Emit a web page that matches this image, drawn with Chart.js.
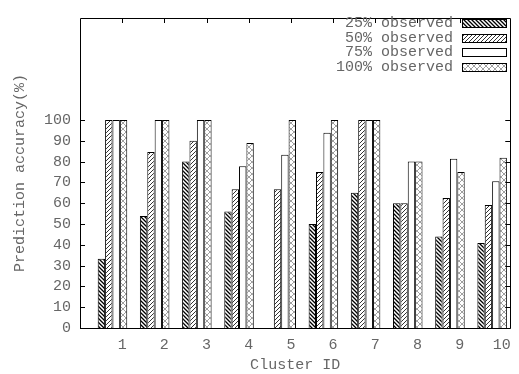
<!DOCTYPE html>
<html>
<head>
<meta charset="utf-8">
<script src="https://cdn.jsdelivr.net/npm/chart.js@4/dist/chart.umd.min.js"></script>
<style>
  html, body { margin: 0; padding: 0; background: #fff; }
  #wrap { width: 519px; height: 374px; }
</style>
</head>
<body>
<div id="wrap"><canvas id="chart" width="519" height="374"></canvas></div>
<script>
const clusters = [1, 2, 3, 4, 5, 6, 7, 8, 9, 10];
const obs25 = [33.3, 53.8, 80, 56, null, 50, 65, 60, 44, 40.9];
const obs50 = [100, 84.6, 90, 66.7, 66.7, 75, 100, 60, 62.5, 59.1];
const obs75 = [100, 100, 100, 77.8, 83.3, 93.8, 100, 80, 81.3, 70.5];
const obs100 = [100, 100, 100, 88.9, 100, 100, 100, 80, 75, 81.8];
const seriesLabels = ['25% observed', '50% observed', '75% observed', '100% observed'];

const FONT = "'Courier New', 'Liberation Mono', monospace";
const TEXT = '#666';

// small tiles used as bar fills
function makePattern(kind) {
    const c = document.createElement('canvas');
    const size = kind === 'cross' ? 6 : 4;
    c.width = size; c.height = size;
    const g = c.getContext('2d');
    g.fillStyle = '#fff';
    g.fillRect(0, 0, size, size);
    g.beginPath();
    if (kind === 'back') {
        g.strokeStyle = '#000';
        g.lineWidth = 1.3;
        g.moveTo(-1, -1); g.lineTo(size + 1, size + 1);
        g.moveTo(-1, size - 1); g.lineTo(1, size + 1);
        g.moveTo(size - 1, -1); g.lineTo(size + 1, 1);
    } else if (kind === 'fwd') {
        g.strokeStyle = '#333';
        g.lineWidth = 1;
        g.moveTo(0, 3); g.lineTo(3, 0);
        g.moveTo(3, 4); g.lineTo(4, 3);
    } else if (kind === 'cross') {
        g.strokeStyle = '#888';
        g.lineWidth = 0.8;
        g.moveTo(0, 0); g.lineTo(size, size);
        g.moveTo(size, 0); g.lineTo(0, size);
    }
    g.stroke();
    return g.createPattern(c, 'repeat');
}

const fills = [makePattern('back'), makePattern('fwd'), '#fff', makePattern('cross')];
const seriesData = [obs25, obs50, obs75, obs100];

const datasets = seriesData.map((vals, i) => ({
    label: seriesLabels[i],
    data: clusters.map((c, j) => ({ x: c, y: vals[j] })),
    backgroundColor: fills[i],
    borderColor: '#000',
    borderWidth: 1,
    borderSkipped: 'bottom',
    categoryPercentage: 0.7,
    barPercentage: 1.0,
    xAxisID: 'x'
}));

// frame with inward ticks, like the original plot
const framePlugin = {
    id: 'frame',
    beforeDatasetsDraw(chart) {
        // bottom ticks sit behind the bars
        const { ctx, chartArea: a } = chart;
        const xs = chart.scales.xt;
        ctx.save();
        ctx.strokeStyle = '#000';
        ctx.lineWidth = 1;
        ctx.beginPath();
        xs.ticks.forEach(t => {
            const x = Math.round(xs.getPixelForValue(t.value)) + 0.5;
            ctx.moveTo(x, a.bottom); ctx.lineTo(x, a.bottom - 5);
        });
        ctx.stroke();
        ctx.restore();
    },
    afterDatasetsDraw(chart) {
        const { ctx, chartArea: a } = chart;
        const ys = chart.scales.y;
        const xs = chart.scales.xt;
        ctx.save();
        ctx.strokeStyle = '#000';
        ctx.lineWidth = 1;
        ctx.beginPath();
        ctx.rect(Math.round(a.left) + 0.5, Math.round(a.top) + 0.5,
            Math.round(a.right - a.left), Math.round(a.bottom - a.top));
        ys.ticks.forEach(t => {
            const y = Math.round(ys.getPixelForValue(t.value)) + 0.5;
            ctx.moveTo(a.left, y); ctx.lineTo(a.left + 5, y);
            ctx.moveTo(a.right, y); ctx.lineTo(a.right - 5, y);
        });
        xs.ticks.forEach(t => {
            const x = Math.round(xs.getPixelForValue(t.value)) + 0.5;
            ctx.moveTo(x, a.top); ctx.lineTo(x, a.top + 5);
        });
        ctx.stroke();
        ctx.restore();
    },
    afterDraw(chart) {
        // key in the upper right corner
        const { ctx } = chart;
        const right = 453, boxX = 462, boxW = 44, boxH = 8;
        ctx.save();
        ctx.font = '15px ' + FONT;
        ctx.textAlign = 'right';
        ctx.textBaseline = 'middle';
        chart.data.datasets.forEach((ds, i) => {
            const y = 23 + i * 14.7;
            ctx.fillStyle = TEXT;
            ctx.fillText(ds.label, right, y);
            ctx.fillStyle = ds.backgroundColor;
            ctx.fillRect(boxX, Math.round(y - boxH / 2), boxW, boxH);
            ctx.strokeStyle = '#000';
            ctx.lineWidth = 1;
            ctx.strokeRect(boxX + 0.5, Math.round(y - boxH / 2) + 0.5, boxW, boxH);
        });
        ctx.restore();
    }
};

new Chart(document.getElementById('chart').getContext('2d'), {
    type: 'bar',
    data: { datasets: datasets },
    options: {
        responsive: false,
        animation: false,
        layout: { padding: { top: 12, right: 0, left: 0, bottom: 0 } },
        plugins: {
            legend: { display: false },
            tooltip: { enabled: false }
        },
        scales: {
            x: {
                type: 'linear',
                display: false,
                min: 0.23,
                max: 10.43,
                offset: false
            },
            xt: {
                type: 'linear',
                position: 'bottom',
                min: 0,
                max: 10.2,
                offset: false,
                afterBuildTicks: (s) => { s.ticks = clusters.map(c => ({ value: c })); },
                afterFit: (s) => { s.height = 46; },
                grid: { display: false, drawTicks: false },
                border: { display: false },
                ticks: {
                    padding: 8,
                    color: TEXT,
                    font: { family: FONT, size: 15 },
                    maxRotation: 0,
                    autoSkip: false
                },
                title: {
                    display: true,
                    text: 'Cluster ID',
                    color: TEXT,
                    font: { family: FONT, size: 15 },
                    padding: { top: 0, bottom: 0 }
                }
            },
            y: {
                min: 0,
                max: 149,
                afterBuildTicks: (s) => { s.ticks = s.ticks.filter(t => t.value <= 100); },
                afterFit: (s) => { s.width = 80; },
                grid: { display: false, drawTicks: false },
                border: { display: false },
                ticks: {
                    stepSize: 10,
                    padding: 9,
                    color: TEXT,
                    font: { family: FONT, size: 15 }
                },
                title: {
                    display: true,
                    text: 'Prediction accuracy(%)',
                    color: TEXT,
                    font: { family: FONT, size: 15 },
                    padding: { top: 11, bottom: 0 }
                }
            }
        }
    },
    plugins: [framePlugin]
});
</script>
</body>
</html>
